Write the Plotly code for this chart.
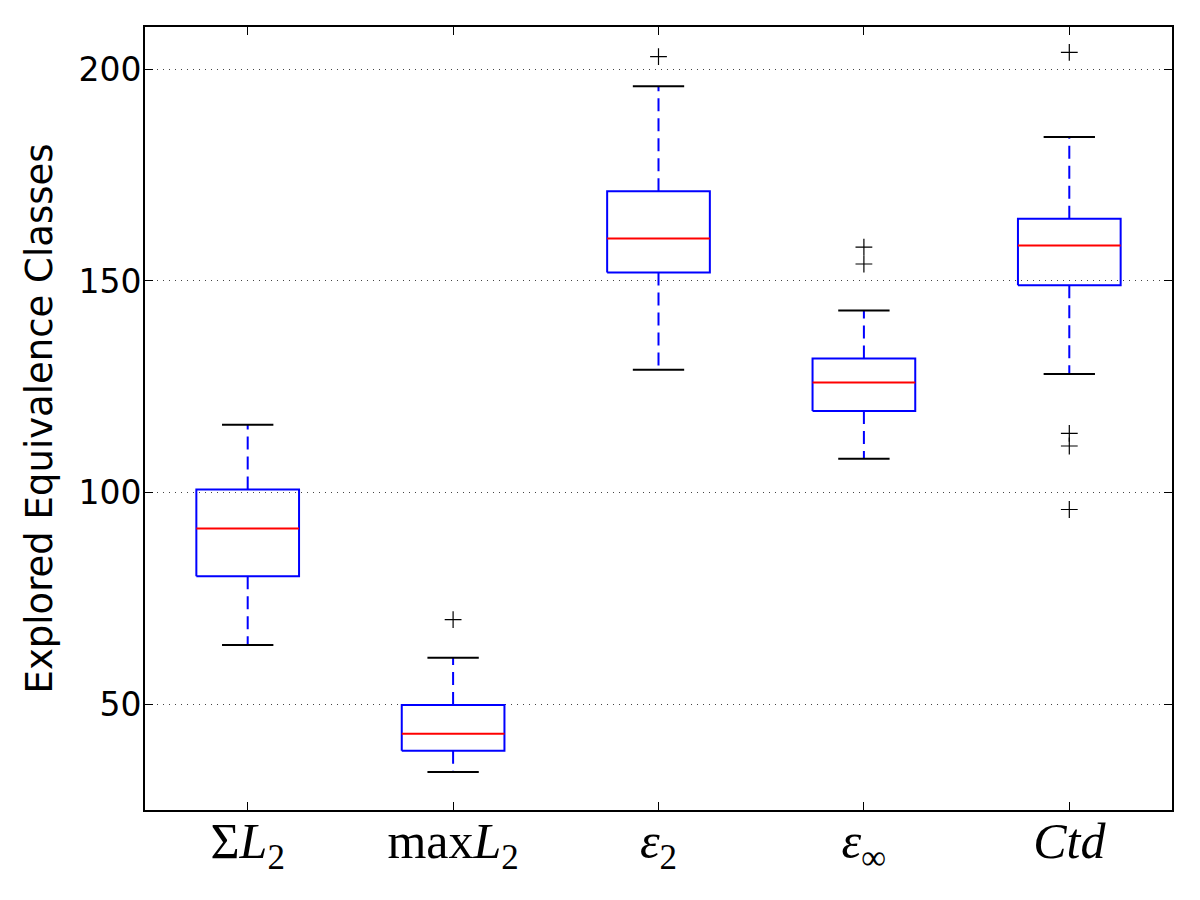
import plotly.graph_objects as go

# ---- data ----
labels = ["Σ<i>L</i><sub>2</sub>", "max<i>L</i><sub>2</sub>", "<i>ε</i><sub>2</sub>",
          "<i>ε</i><sub>∞</sub>", "<i>Ctd</i>"]
q1 = [80.2, 39.0, 152.0, 119.3, 149.0]
median = [91.5, 43.0, 160.0, 126.0, 158.4]
q3 = [100.7, 49.8, 171.2, 131.7, 164.7]
whisker_low = [64.0, 34.0, 129.0, 108.0, 128.0]
whisker_high = [116.0, 61.0, 196.0, 143.0, 184.0]
outliers = [[], [70.0], [203.0], [158.0, 154.0], [204.0, 114.0, 111.0, 96.0]]
y_ticks = [50, 100, 150, 200]

# ---- styles ----
BOX_HALF = 0.25
CAP_HALF = 0.125
BLUE = "#0000ff"
RED = "#ff0000"

positions = list(range(1, len(labels) + 1))

bx, by, mx, my, wx, wy, cx, cy, ox, oy = ([] for _ in range(10))
for p, a, m, b, lo, hi, outs in zip(positions, q1, median, q3, whisker_low, whisker_high, outliers):
    bx += [p - BOX_HALF, p + BOX_HALF, p + BOX_HALF, p - BOX_HALF, p - BOX_HALF, None]
    by += [a, a, b, b, a, None]
    mx += [p - BOX_HALF, p + BOX_HALF, None]
    my += [m, m, None]
    wx += [p, p, None, p, p, None]
    wy += [b, hi, None, a, lo, None]
    cx += [p - CAP_HALF, p + CAP_HALF, None, p - CAP_HALF, p + CAP_HALF, None]
    cy += [hi, hi, None, lo, lo, None]
    for o in outs:
        ox.append(p)
        oy.append(o)

fig = go.Figure()
fig.add_trace(go.Scatter(x=wx, y=wy, mode="lines",
                         line=dict(color=BLUE, width=2, dash="13px,7px"), hoverinfo="skip"))
fig.add_trace(go.Scatter(x=cx, y=cy, mode="lines",
                         line=dict(color="black", width=2), hoverinfo="skip"))
fig.add_trace(go.Scatter(x=bx, y=by, mode="lines",
                         line=dict(color=BLUE, width=2), hoverinfo="skip"))
fig.add_trace(go.Scatter(x=mx, y=my, mode="lines",
                         line=dict(color=RED, width=2), hoverinfo="skip"))
fig.add_trace(go.Scatter(x=ox, y=oy, mode="markers",
                         marker=dict(symbol="cross-thin", size=12,
                                     line=dict(color="black", width=1.2)),
                         hoverinfo="skip"))

fig.update_layout(
    width=1200, height=900,
    margin=dict(l=145, r=28, t=27, b=90, autoexpand=False),
    paper_bgcolor="white", plot_bgcolor="white",
    showlegend=False,
)
fig.update_xaxes(
    range=[0.5, 5.5], tickmode="array", tickvals=positions, ticktext=labels,
    ticks="inside", ticklen=8, tickwidth=1, tickcolor="black",
    showline=True, linecolor="black", linewidth=2, mirror="ticks",
    showgrid=False, zeroline=False, ticklabelstandoff=-14,
    tickfont=dict(family="Liberation Serif, DejaVu Serif, serif", size=50, color="black"),
)
fig.update_yaxes(
    range=[25, 210], tickmode="array", tickvals=y_ticks,
    ticks="inside", ticklen=8, tickwidth=1, tickcolor="black",
    showline=True, linecolor="black", linewidth=2, mirror="ticks",
    showgrid=True, gridcolor="#444444", gridwidth=1, griddash="1px,5px",
    zeroline=False, ticklabelstandoff=-5,
    tickfont=dict(family="DejaVu Sans, sans-serif", size=33, color="black"),
    title=dict(text="Explored Equivalence Classes", standoff=14,
               font=dict(family="DejaVu Sans, sans-serif", size=37, color="black")),
)

fig.write_html("out.html")
